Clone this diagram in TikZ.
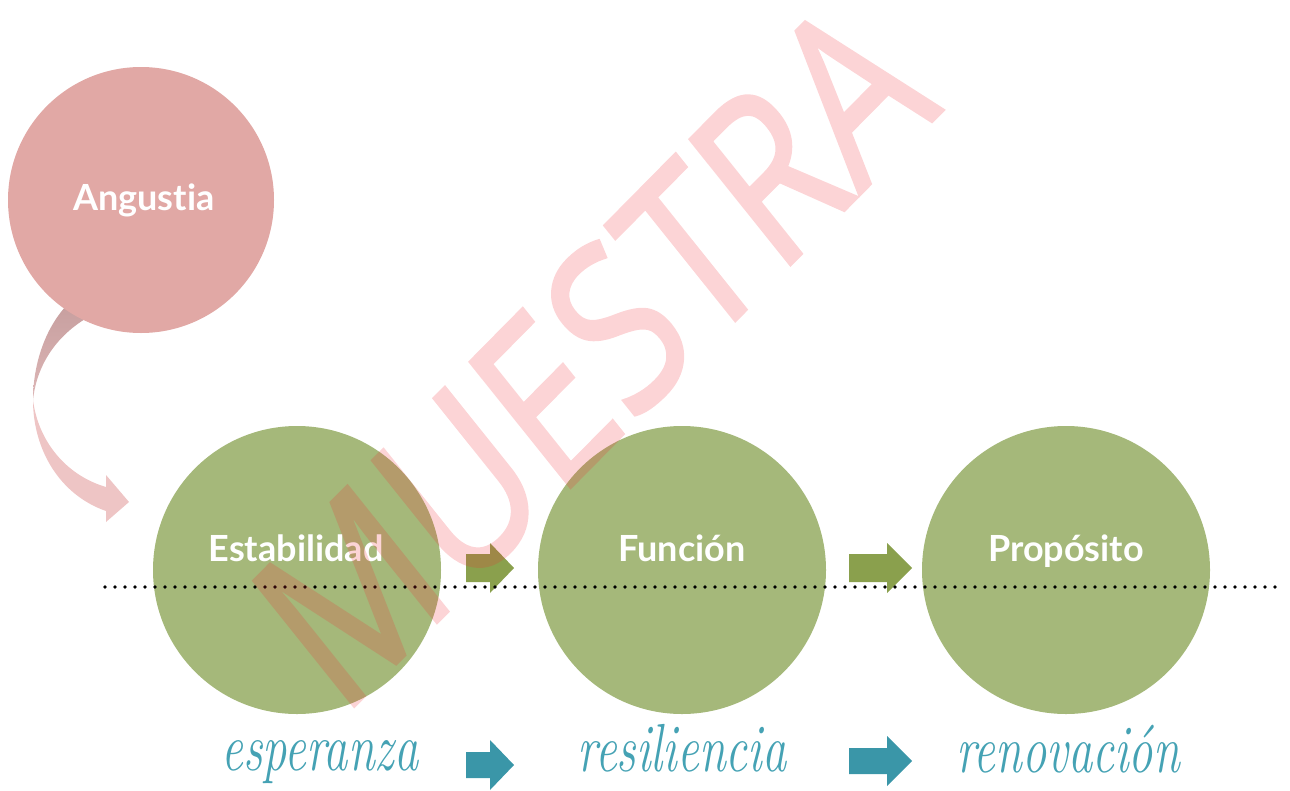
\documentclass[tikz,border=0pt]{standalone}
\usepackage{fontspec}
\setmainfont{Lato}[Ligatures=NoCommon]
\newfontfamily\wmfont{Open Sans}[FakeBold=1.5]
\newfontfamily\scriptf{Latin Modern Roman}
\definecolor{circgreen}{HTML}{A5B87A}
\definecolor{angpink}{HTML}{E1A8A5}
\definecolor{arrgreen}{HTML}{8AA04D}
\definecolor{arrteal}{HTML}{3A96A8}
\definecolor{tealtext}{HTML}{45A2B4}
\definecolor{wmred}{RGB}{240,40,50}
\definecolor{ribtop}{HTML}{C69E9E}
\definecolor{ribmid}{HTML}{DDB6B6}
\definecolor{riblow}{HTML}{EEC5C5}
\newcommand{\blockarrow}[7]{\fill[#7] (#1,#4-#5) -- (#2,#4-#5) -- (#2,#4-#6) -- (#3,#4) -- (#2,#4+#6) -- (#2,#4+#5) -- (#1,#4+#5) -- cycle;}
\begin{document}
\begin{tikzpicture}[x=1pt,y=-1pt,
  roundnode/.style={circle, inner sep=0pt, minimum size=288pt, fill=circgreen},
  lbl/.style={text=white, font=\bfseries\fontsize{36}{40}\selectfont, anchor=base, inner sep=0pt},
  scriptlbl/.style={text=tealtext, font=\scriptf\itshape\fontsize{63}{70}\selectfont, anchor=base, inner sep=0pt, xscale=0.77, yscale=1.08},
  dotline/.style={line width=3.6pt, line cap=round, dash pattern=on 0pt off 10pt},
]
\useasboundingbox (0,0) rectangle (1290,790);
% curved ribbon arrow
\shade[top color=ribtop, bottom color=ribmid]
  (72,300) .. controls (45,325) and (33,365) .. (33,400)
  .. controls (37,362) and (60,330) .. (98,312) -- cycle;
\fill[riblow]
  (33,400) .. controls (33,450) and (60,495) .. (106,511)
  -- (106,522) -- (129,502) -- (106,475) -- (106,487)
  .. controls (65,475) and (38,440) .. (33,400) -- cycle;
% circles
\node[circle, inner sep=0pt, minimum size=266pt, fill=angpink] (ang) at (141,200) {};
\node[roundnode] (estab) at (297,570) {};
\node[roundnode] (func) at (682,570) {};
\node[roundnode] (prop) at (1066,570) {};
% labels
\node[lbl] (angT) at (144,210) {Angustia};
\node[lbl] (estabT) at (296,561) {Estabilidad};
\node[lbl] (funcT) at (682,561) {Función};
\node[lbl] (propT) at (1066,561) {Propósito};
% block arrows
\blockarrow{466}{490}{514}{568}{14}{25}{arrgreen}
\blockarrow{849}{887}{912}{568}{14}{25}{arrgreen}
\blockarrow{466}{490}{514}{765}{13}{25}{arrteal}
\blockarrow{849}{887}{912}{761}{13}{25}{arrteal}
% script words
\node[scriptlbl] (w1) at (320,770) {esperanza};
\node[scriptlbl] (w2) at (682,771) {resiliencia};
\node[scriptlbl] (w3) at (1068,772) {renovación};
% dotted line
\coordinate (dl) at (105,587);
\coordinate (dr) at (1281,587);
\draw[dotline] (dl) -- (dr);
% watermark
\begin{scope}[transparency group, opacity=0.2]
\begin{scope}[shift={(592,352)}, yscale=1.124, transform shape]
\node[rotate=42, xscale=0.85, text=wmred, font=\wmfont\fontsize{210}{230}\selectfont, inner sep=0pt] (wm) at (0,0) {MUESTRA};
\end{scope}
\end{scope}
\end{tikzpicture}
\end{document}
